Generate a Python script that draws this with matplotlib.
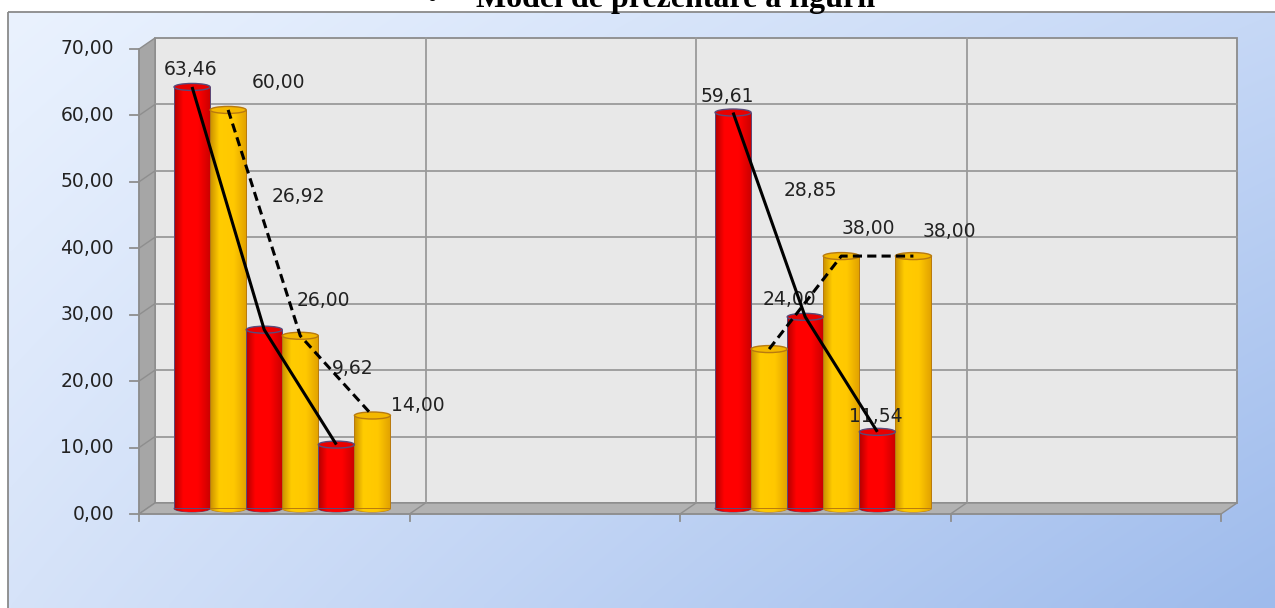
import numpy as np
import matplotlib
matplotlib.use("Agg")
import matplotlib.pyplot as plt
from matplotlib.patches import Rectangle, Ellipse, Polygon
from matplotlib.lines import Line2D
from matplotlib.colors import LinearSegmentedColormap
from matplotlib.transforms import IdentityTransform

# ---------------- data ----------------
title_text = "Model de prezentare a figurii"
categories = ["", "", "", ""]          # four category slots (2nd and 4th empty)
s1 = [63.46, np.nan, 59.61, np.nan]    # red
s2 = [60.00, np.nan, 24.00, np.nan]    # yellow
s3 = [26.92, np.nan, 28.85, np.nan]    # red
s4 = [26.00, np.nan, 38.00, np.nan]    # yellow
s5 = [9.62, np.nan, 11.54, np.nan]     # red
s6 = [14.00, np.nan, 38.00, np.nan]    # yellow
series = [s1, s2, s3, s4, s5, s6]
y_ticks = [0, 10, 20, 30, 40, 50, 60, 70]

# ---------------- style ----------------
series_kind = ["red", "yellow", "red", "yellow", "red", "yellow"]
# label offsets (pixels, dx right, dy up) for each series / category
label_offsets = [
    {0: (-2, 17), 2: (-6, 16)},
    {0: (50, 27), 2: (20, 50)},
    {0: (34, 133), 2: (5, 126)},
    {0: (23, 35), 2: (27, 28)},
    {0: (16, 76), 2: (-2, 15)},
    {0: (45, 10), 2: (36, 25)},
]
W, H, DPI = 1275, 608, 100
fig = plt.figure(figsize=(W / DPI, H / DPI), dpi=DPI)
fig.patch.set_facecolor("white")

# ---- background frame with gradient ----
bg = fig.add_axes([0, 0, 1, 1])
bg.set_xlim(0, W)
bg.set_ylim(H, 0)
bg.axis("off")
TL = np.array([234, 242, 254]) / 255
TR = np.array([198, 216, 246]) / 255
BL = np.array([214, 227, 249]) / 255
BR = np.array([158, 187, 236]) / 255
gx = np.linspace(0, 1, 200)[None, :, None]
gy = np.linspace(0, 1, 100)[:, None, None]
grad = (TL * (1 - gx) * (1 - gy) + TR * gx * (1 - gy) + BL * (1 - gx) * gy + BR * gx * gy)
bg.imshow(grad, extent=(8, W, H, 12), origin="upper", aspect="auto",
          interpolation="bilinear", zorder=0)
bg.add_patch(Rectangle((8, 12), W + 50, H + 50, fill=False, edgecolor="#8a8a8a",
                       lw=1.3, zorder=1, clip_on=False))
bg.set_xlim(0, W)
bg.set_ylim(H, 0)

# ---- title (top of it is cut by the page edge, as in the source) ----
fig.text(432 / W, 1 - 7 / H, "\u2022", family="Liberation Serif", weight="bold",
         fontsize=23, ha="center", va="baseline", color="black")
fig.text(476 / W, 1 - 7 / H, title_text, family="Liberation Serif", weight="bold",
         fontsize=23, ha="left", va="baseline", color="black")

# ---- main axes (mid-depth plane) ----
ppu = 465 / 70.0
ymin, ymax = -5, 75
top_px = 43.5 - (ymax - 70) * ppu
bot_px = 508.5 - (ymin - 0) * ppu
ax = fig.add_axes([147 / W, (H - bot_px) / H, 1082 / W, (bot_px - top_px) / H])
ax.set_xlim(0, len(categories))
ax.set_ylim(ymin, ymax)
ax.set_autoscale_on(False)
ax.axis("off")
ax.patch.set_visible(False)

DX, DY = 8.0, 5.5
def P(x, y, d):
    px, py = ax.transData.transform((x, y))
    return (px + d * DX, py + d * DY)

ID = IdentityTransform()
ncat = len(categories)
ytop = y_ticks[-1]
wall_edge = "#8c8c8c"
grid_c = "#9a9a9a"

ax.add_patch(Polygon([P(0, 0, 1), P(ncat, 0, 1), P(ncat, ytop, 1), P(0, ytop, 1)],
                     closed=True, facecolor="#e8e8e8", edgecolor=wall_edge, lw=1.3,
                     transform=ID, zorder=0.5, clip_on=False))
ax.add_patch(Polygon([P(0, 0, -1), P(0, 0, 1), P(0, ytop, 1), P(0, ytop, -1)],
                     closed=True, facecolor="#a6a6a6", edgecolor=wall_edge, lw=1.0,
                     transform=ID, zorder=0.6, clip_on=False))
ax.add_patch(Polygon([P(0, 0, -1), P(ncat, 0, -1), P(ncat, 0, 1), P(0, 0, 1)],
                     closed=True, facecolor="#b2b2b2", edgecolor=wall_edge, lw=1.0,
                     transform=ID, zorder=0.6, clip_on=False))

def seg(a, b, color=grid_c, lw=1.3, z=1.0):
    ax.add_line(Line2D([a[0], b[0]], [a[1], b[1]], color=color, lw=lw,
                       transform=ID, zorder=z, clip_on=False))

for yv in y_ticks:
    if 0 < yv < ytop:
        seg(P(0, yv, 1), P(ncat, yv, 1))
        seg(P(0, yv, -1), P(0, yv, 1), color="#8e8e8e", lw=1.0)
    f = P(0, yv, -1)
    seg((f[0] - 9, f[1]), f, color="#8e8e8e", lw=1.3)
    ax.text(f[0] - 25, f[1], f"{yv:.2f}".replace(".", ","), transform=ID,
            ha="right", va="center", fontsize=13.5, color="#222222",
            family="DejaVu Sans", zorder=2)
for xv in range(1, ncat):
    seg(P(xv, 0, 1), P(xv, ytop, 1))
    seg(P(xv, 0, 1), P(xv, 0, -1), color="#8e8e8e", lw=1.0)
for xv in range(0, ncat + 1):
    f = P(xv, 0, -1)
    seg(f, (f[0], f[1] - 7), color="#8e8e8e", lw=1.3)
seg(P(0, 0, -1), P(0, ytop, -1), color="#8e8e8e", lw=1.2)
seg(P(0, 0, -1), P(ncat, 0, -1), color="#8e8e8e", lw=1.2)

# ---- cylinders ----
cmaps = {
    "red": LinearSegmentedColormap.from_list("r", [(0, "#b00000"), (0.25, "#ff0000"),
                                                   (0.65, "#ff0000"), (1, "#c80000")]),
    "yellow": LinearSegmentedColormap.from_list("y", [(0, "#c88e00"), (0.25, "#ffcc00"),
                                                      (0.65, "#ffc800"), (1, "#e0a000")]),
}
cap_face = {"red": "#e80000", "yellow": "#f4b800"}
outline = {"red": "#5a4a7a", "yellow": "#b87a10"}
nser = len(series)
group_w = 0.8
bw = group_w / nser
eh = 7.0 / ppu
gradrow = np.linspace(0, 1, 256).reshape(1, -1)
centers = {}
for i, vals in enumerate(series):
    kind = series_kind[i]
    for c, v in enumerate(vals):
        if np.isnan(v):
            continue
        cx = c + 0.5 - group_w / 2 + (i + 0.5) * bw
        centers[(i, c)] = cx
        bar = ax.bar([cx], [v], width=bw, facecolor="none", edgecolor=outline[kind],
                     lw=0.7, zorder=4)[0]
        im = ax.imshow(gradrow, cmap=cmaps[kind], extent=(cx - bw / 2, cx + bw / 2, 0, v),
                       aspect="auto", interpolation="bilinear", zorder=3)
        im.set_clip_path(bar)
        bot = Ellipse((cx, 0), bw, eh, facecolor="none", edgecolor=outline[kind], lw=0.7,
                      zorder=2.9)
        ax.add_patch(bot)
        im2 = ax.imshow(gradrow, cmap=cmaps[kind],
                        extent=(cx - bw / 2, cx + bw / 2, -eh / 2, 0),
                        aspect="auto", interpolation="bilinear", zorder=3)
        im2.set_clip_path(bot)
        ax.add_patch(Ellipse((cx, v), bw, eh, facecolor=cap_face[kind],
                             edgecolor=outline[kind], lw=1.0, zorder=5))
        dx, dy = label_offsets[i][c]
        ax.annotate(f"{v:.2f}".replace(".", ","), (cx, v), xytext=(dx * 0.72, dy * 0.72),
                    textcoords="offset points", ha="center", va="center",
                    fontsize=13.5, color="#222222", family="DejaVu Sans", zorder=6)

# ---- connecting lines ----
for c in range(ncat):
    for kind, ls in (("red", "-"), ("yellow", (0, (3, 1.7)))):
        xs, ys = [], []
        for i, vals in enumerate(series):
            if series_kind[i] == kind and not np.isnan(vals[c]):
                xs.append(centers[(i, c)])
                ys.append(vals[c])
        if xs:
            ax.plot(xs, ys, color="black", lw=2.2, linestyle=ls, zorder=7,
                    solid_capstyle="butt", dash_capstyle="butt")

ax.set_xlim(0, ncat)
ax.set_ylim(ymin, ymax)
fig.savefig("out.png", dpi=DPI)
